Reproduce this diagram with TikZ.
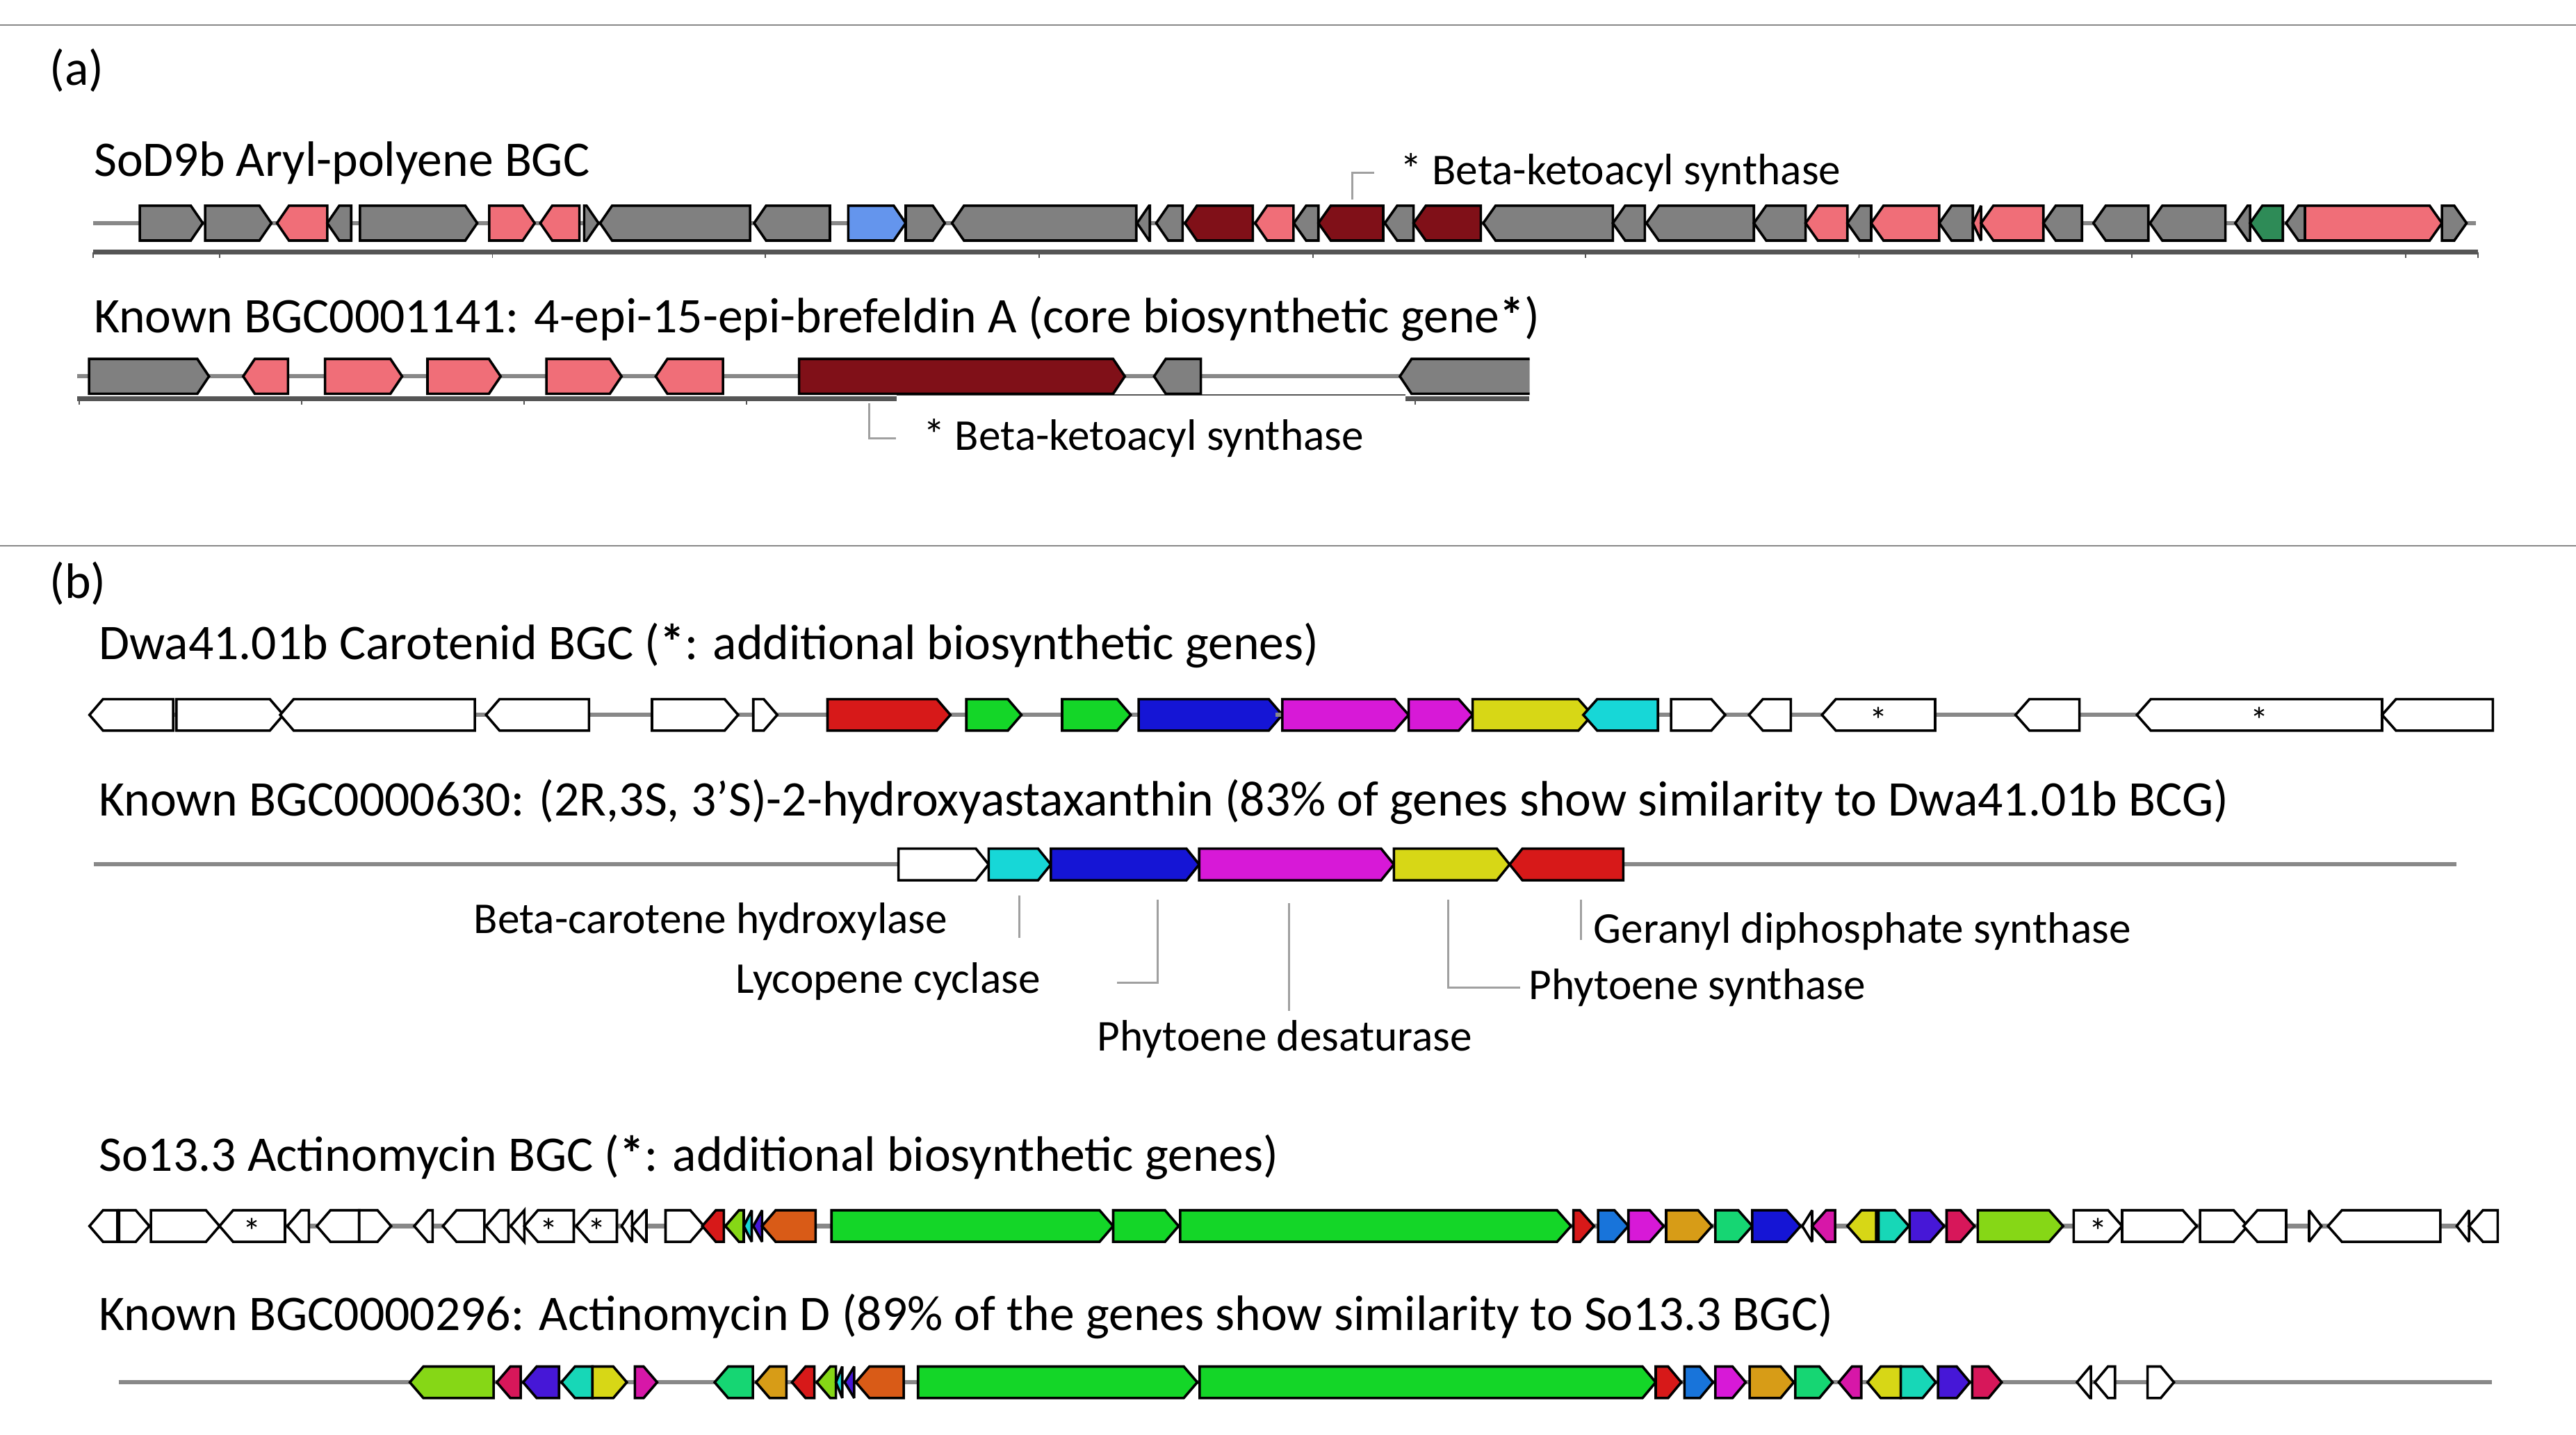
\documentclass[tikz,border=0pt]{standalone}
\usepackage{fontspec}
\setmainfont{Carlito}
\definecolor{cgray}{HTML}{808080}
\definecolor{cpink}{HTML}{F06E78}
\definecolor{cdred}{HTML}{801018}
\definecolor{cblue}{HTML}{6495ED}
\definecolor{cdgreen}{HTML}{2E8B57}
\definecolor{cred}{HTML}{D71919}
\definecolor{cgreen}{HTML}{14D628}
\definecolor{cnavy}{HTML}{1515D5}
\definecolor{cmag}{HTML}{D719D7}
\definecolor{cyel}{HTML}{D7D716}
\definecolor{ccyan}{HTML}{17D7D7}
\definecolor{corange}{HTML}{D95B17}
\definecolor{cspring}{HTML}{16D673}
\definecolor{csky}{HTML}{1874DA}
\definecolor{cgold}{HTML}{D79C17}
\definecolor{cviolet}{HTML}{4617D7}
\definecolor{ccrim}{HTML}{D7175A}
\definecolor{clime}{HTML}{86D716}
\definecolor{cturq}{HTML}{17D7B7}
\definecolor{cmag2}{HTML}{D717A8}
\definecolor{cbb}{HTML}{888888}
\definecolor{csc}{HTML}{555555}
\definecolor{clead}{HTML}{A0A0A0}
\newcommand\gR[3]{\filldraw[genestyle,fill=#3] (#1,-\hh) -- ({max(#1,#2-\hd)},-\hh) -- (#2,0) -- ({max(#1,#2-\hd)},\hh) -- (#1,\hh) -- cycle;}
\newcommand\gL[3]{\filldraw[genestyle,fill=#3] (#2,-\hh) -- ({min(#2,#1+\hd)},-\hh) -- (#1,0) -- ({min(#2,#1+\hd)},\hh) -- (#2,\hh) -- cycle;}
\newcommand\gstar[2]{\node[font=\fontsize{22}{22}\selectfont] at ({(#1+#2)/2},3) {*};}
\tikzset{
  genestyle/.style={draw=black,line width=1.5pt,line join=miter,miter limit=3},
  bb/.style={cbb,line width=2.6pt},
  scl/.style={csc,line width=3pt},
  sep/.style={cbb,line width=0.8pt},
  lead/.style={clead,line width=1.2pt},
  ttl/.style={anchor=west,font=\fontsize{30}{34}\selectfont,inner sep=0pt},
  lbl/.style={font=\fontsize{26.5}{30}\selectfont,inner sep=0pt}
}
\begin{document}
\begin{tikzpicture}[x=1pt,y=-1pt]
\useasboundingbox[fill=white] (0,0) rectangle (1552,864);
\draw[sep] (0,14.9) -- (1552,14.9);
\draw[sep] (0,328.7) -- (1552,328.7);
\node[ttl] (la) at (29.7,42.6) {(a)};
\node[ttl] (lb) at (29.7,351.5) {(b)};
% ---------- row a1
\node[ttl] (t1) at (56.4,98) {SoD9b Aryl-polyene BGC};
\draw[bb] (56.3,134.4) -- (1491.5,134.4);
\draw[scl] (56.3,151.9) -- (1493,151.9);
\foreach \t in {56.3,132.3,296.7,461,626,790.9,955.4,1120,1284.5,1449.5,1493}{\draw[csc,line width=0.8pt] (\t,151.9) -- (\t,155.5);}
\def\hh{10.5}\def\hd{15}
\begin{scope}[shift={(41.9,134.4)},xscale=0.4807]
\gR{88}{167}{cgray}\gR{170}{253}{cgray}\gL{260}{323}{cpink}\gL{323}{353}{cgray}
\gR{364}{511}{cgray}\gR{526}{583}{cpink}\gL{590}{639}{cpink}\gR{645}{663}{cgray}
\gL{665}{853}{cgray}\gL{858}{953}{cgray}\gR{976}{1048}{cblue}\gR{1048}{1097}{cgray}
\gL{1106}{1337}{cgray}\gL{1338}{1354}{cgray}\gL{1362}{1395}{cgray}\gL{1398}{1483}{cdred}
\gL{1486}{1534}{cpink}
\end{scope}
\begin{scope}[shift={(753.8,134.4)},xscale=0.4941]
\gL{52}{82}{cgray}\gL{82}{161}{cdred}\gL{163}{198}{cgray}\gL{198}{280}{cdred}
\gL{283}{441}{cgray}\gL{441}{480}{cgray}\gL{482}{613}{cgray}\gL{613}{676}{cgray}
\gL{676}{727}{cpink}\gL{727}{756}{cgray}\gL{756}{839}{cpink}\gL{839}{880}{cgray}
\gL{880}{890}{cpink}\gL{890}{966}{cpink}\gL{966}{1013}{cgray}\gL{1027}{1094}{cgray}
\gL{1096}{1188}{cgray}\gL{1200}{1218}{cgray}\gL{1218}{1258}{cdgreen}\gL{1262}{1285}{cgray}
\gR{1285}{1452}{cpink}\gR{1452}{1482}{cgray}
\end{scope}
\draw[lead] (814.6,120) -- (814.6,104) -- (828,104);
\node[lbl,anchor=west] (k1) at (843.5,104) {* Beta-ketoacyl synthase};
% ---------- row a2
\node[ttl] (t2) at (56.4,192) {Known BGC0001141: 4-epi-15-epi-brefeldin A (core biosynthetic gene\textbf{*})};
\draw[bb] (46.6,226.7) -- (921.5,226.7);
\draw[scl] (46.6,240.2) -- (540.2,240.2);
\draw[csc,line width=1pt] (540.2,237.8) -- (846.9,237.8);
\draw[scl] (846.9,240.2) -- (921.5,240.2);
\foreach \t in {47.8,181.8,315.7,449.7,852.8}{\draw[csc,line width=0.8pt] (\t,240.2) -- (\t,243.8);}
\begin{scope}[shift={(41.9,226.7)},xscale=0.5876]
\def\hd{12}
\gR{20}{143}{cgray}\gL{178}{224}{cpink}\gR{262}{341}{cpink}\gR{367}{442}{cpink}
\gR{489}{566}{cpink}\gL{601}{670}{cpink}\gR{748}{1082}{cdred}\gL{1112}{1160}{cgray}
\filldraw[genestyle,fill=cgray] (1497,-\hh) -- (1376,-\hh) -- (1364,0) -- (1376,\hh) -- (1497,\hh);
\end{scope}
\draw[lead] (523.7,243) -- (523.7,264) -- (540,264);
\node[lbl,anchor=west] (k2) at (556,264) {* Beta-ketoacyl synthase};
% ---------- row b1
\node[ttl] (t3) at (59.4,389) {Dwa41.01b Carotenid BGC (\textbf{*}: additional biosynthetic genes)};
\def\hh{9.5}
\begin{scope}[shift={(41.9,430.6)},xscale=0.4807]
\def\hd{17}
\draw[bb] (25,0) -- (1568,0);
\gL{25}{130}{white}\gR{134}{268}{white}\gL{264}{508}{white}\gL{522}{651}{white}
\gR{730}{838}{white}\gR{857}{887}{white}\gR{950}{1104}{cred}\gR{1124}{1193}{cgreen}
\gR{1244}{1330}{cgreen}\gR{1340}{1520}{cnavy}
\end{scope}
\begin{scope}[shift={(753.8,430.6)},xscale=0.4941]
\def\hd{17}
\draw[bb] (30,0) -- (1514,0);
\gR{38}{192}{cmag}\gR{192}{270}{cmag}\gR{270}{416}{cyel}\gL{405}{496}{ccyan}
\gR{512}{578}{white}\gL{607}{658}{white}\gL{696}{834}{white}\gstar{696}{834}
\gL{932}{1010}{white}\gL{1080}{1379}{white}\gstar{1080}{1379}\gL{1379}{1514}{white}
\end{scope}
% ---------- row b2
\node[ttl] (t4) at (59.4,483) {Known BGC0000630: (2R,3S, 3’S)-2-hydroxyastaxanthin (83\% of genes show similarity to Dwa41.01b BCG)};
\draw[bb] (56.4,520.7) -- (1480,520.7);
\begin{scope}[shift={(523.5,520.7)},xscale=0.3071]
\def\hd{25}
\gR{58}{235}{white}\gR{235}{357}{ccyan}\gR{357}{648}{cnavy}\gR{648}{1030}{cmag}
\gR{1030}{1257}{cyel}\gL{1257}{1480}{cred}
\end{scope}
\draw[lead] (614.1,539.4) -- (614.1,565);
\node[lbl,anchor=east] (n1) at (571,555) {Beta-carotene hydroxylase};
\draw[lead] (697.3,542) -- (697.3,592) -- (673,592);
\node[lbl,anchor=east] (n2) at (627,591) {Lycopene cyclase};
\draw[lead] (776.6,544) -- (776.6,609);
\node[lbl] (n3) at (774,626) {Phytoene desaturase};
\draw[lead] (872.4,542) -- (872.4,595) -- (916,595);
\node[lbl,anchor=west] (n4) at (921,595) {Phytoene synthase};
\draw[lead] (952.5,542) -- (952.5,566);
\node[lbl,anchor=west] (n5) at (960,561) {Geranyl diphosphate synthase};
% ---------- row b3
\node[ttl] (t5) at (59.4,697) {So13.3 Actinomycin BGC (\textbf{*}: additional biosynthetic genes)};
\begin{scope}[shift={(41.9,738.5)},xscale=0.4807]
\def\hd{17}
\draw[bb] (25,0) -- (1400,0);
\gL{25}{60}{white}\gR{62}{100}{white}\gR{102}{188}{white}\gL{188}{270}{white}\gstar{188}{270}
\gL{273}{300}{white}\gL{310}{363}{white}\gR{363}{403}{white}\gL{432}{455}{white}
\gL{468}{520}{white}\gL{522}{550}{white}\gL{553}{570}{white}\gL{570}{632}{white}\gstar{570}{632}
\gL{635}{686}{white}\gstar{635}{686}\gL{692}{705}{white}\gL{705}{723}{white}\gR{747}{795}{white}
\gL{793}{820}{cred}\gL{822}{845}{clime}\gL{845}{855}{ccyan}\gL{857}{868}{cviolet}
\gL{868}{935}{corange}\gR{955}{1308}{cgreen}\gR{1308}{1390}{cgreen}
\end{scope}
\begin{scope}[shift={(753.8,738.5)},xscale=0.4941]
\def\hd{17}
\draw[bb] (380,0) -- (1520,0);
\gR{-86.6}{390}{cgreen}\gR{393}{418}{cred}\gR{423}{460}{csky}\gR{460}{503}{cmag}
\gR{506}{562}{cgold}\gR{566}{611}{cspring}\gR{611}{670}{cnavy}\gL{672}{684}{white}
\gL{684}{712}{cmag2}\gL{727}{762}{cyel}\gR{765}{802}{cturq}\gR{803}{845}{cviolet}
\gR{848}{882}{ccrim}\gR{886}{990}{clime}\gR{1003}{1062}{white}\gstar{1003}{1062}
\gR{1062}{1153}{white}\gR{1157}{1215}{white}\gL{1210}{1262}{white}\gR{1290}{1305}{white}
\gL{1313}{1450}{white}\gL{1470}{1485}{white}\gL{1485}{1520}{white}
\end{scope}
% ---------- row b4
\node[ttl] (t6) at (59.4,793) {Known BGC0000296: Actinomycin D (89\% of the genes show similarity to So13.3 BGC)};
\begin{scope}[shift={(62.8,832.6)},xscale=0.4807]
\def\hd{17}
\draw[bb] (18,0) -- (1568,0);
\gL{383}{488}{clime}\gL{492}{522}{ccrim}\gL{525}{570}{cviolet}\gL{573}{612}{cturq}
\gR{612}{655}{cyel}\gR{665}{693}{cmag2}\gL{765}{813}{cspring}\gL{817}{855}{cgold}
\gL{862}{890}{cred}\gL{893}{917}{clime}\gL{917}{925}{ccyan}\gL{928}{940}{cviolet}
\gL{942}{1002}{corange}\gR{1020}{1370}{cgreen}
\end{scope}
\begin{scope}[shift={(795.6,832.6)},xscale=0.4674]
\def\hd{17}
\draw[bb] (0,0) -- (1510,0);
\gR{-155.8}{432}{cgreen}\gR{432}{465}{cred}\gR{469}{506}{csky}\gR{509}{548}{cmag}
\gR{553}{610}{cgold}\gR{612}{660}{cspring}\gL{668}{697}{cmag2}\gL{705}{748}{cyel}
\gR{748}{793}{cturq}\gR{796}{837}{cviolet}\gR{840}{878}{ccrim}\gL{975}{993}{white}
\gL{998}{1024}{white}\gR{1066}{1100}{white}
\end{scope}
\end{tikzpicture}
\end{document}
